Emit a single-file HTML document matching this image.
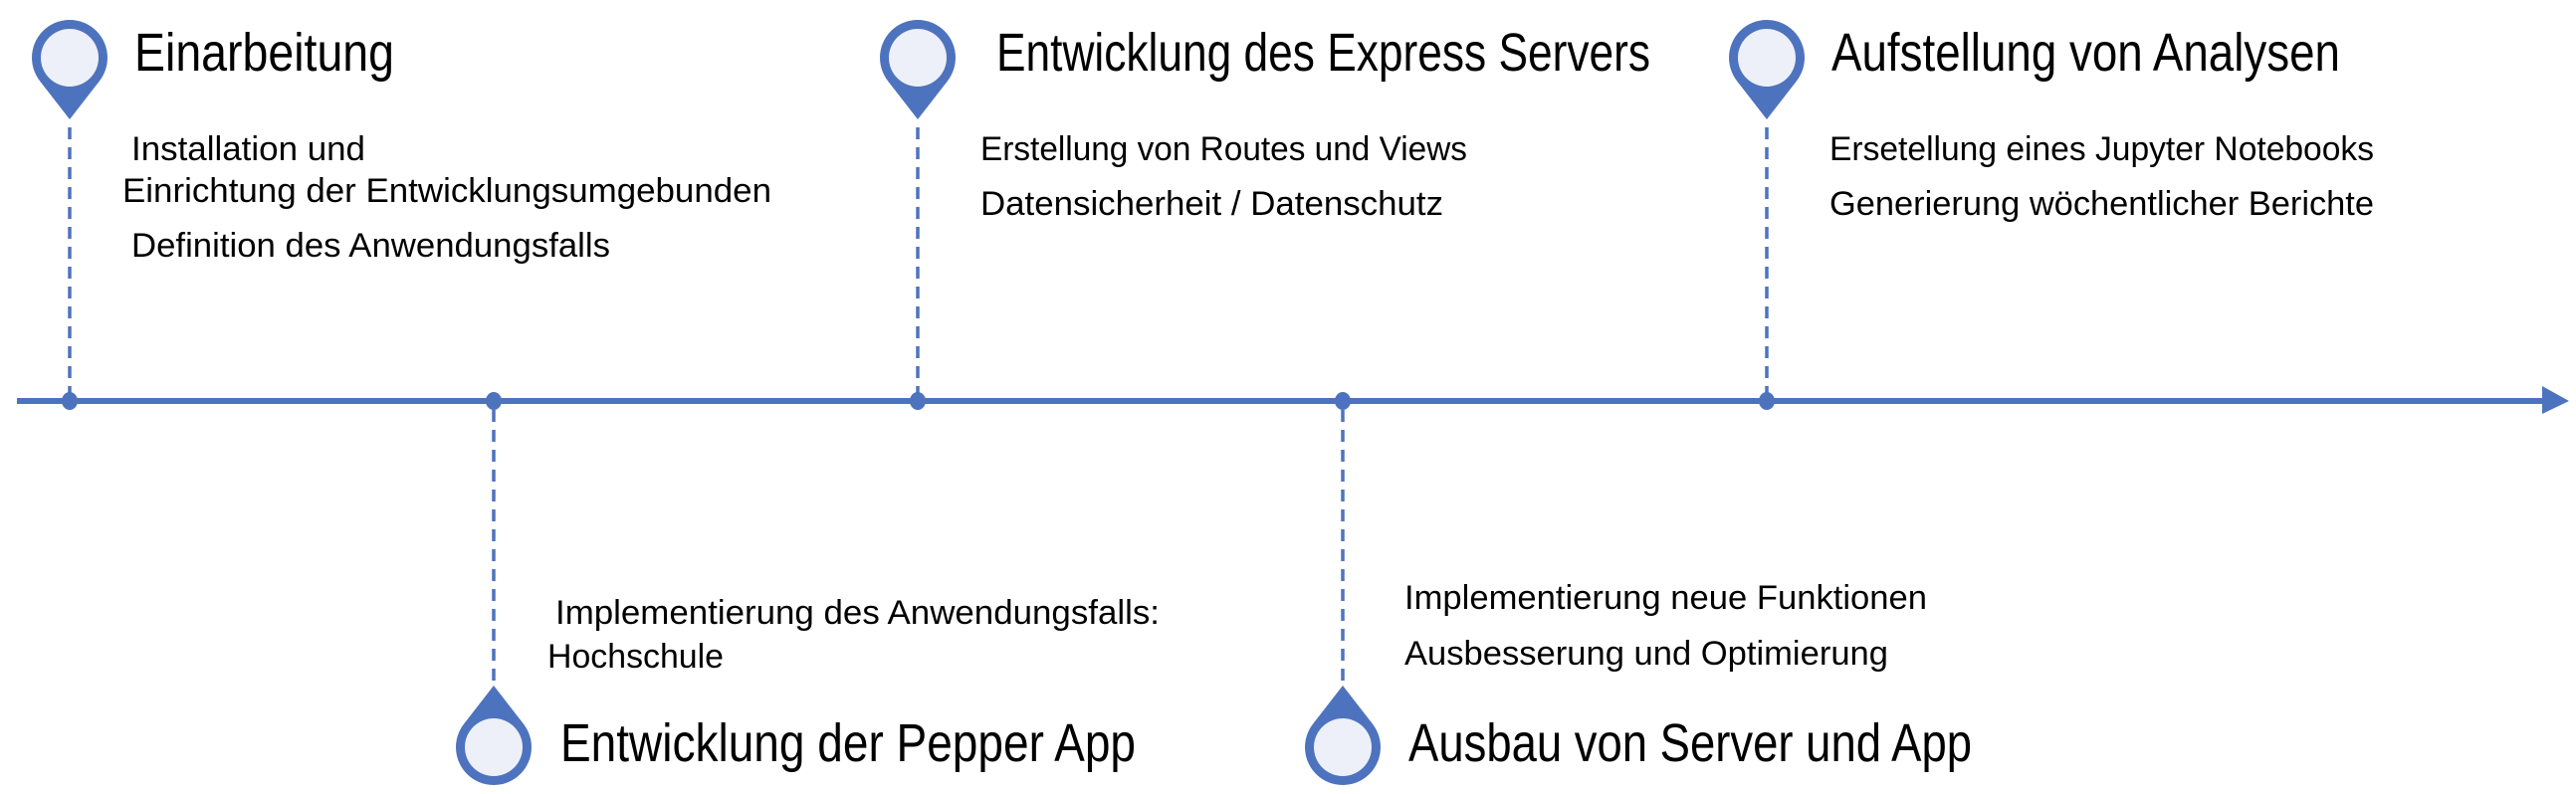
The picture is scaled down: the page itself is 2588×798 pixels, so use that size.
<!DOCTYPE html>
<html><head><meta charset="utf-8"><style>
html,body{margin:0;padding:0;background:#fff;}
svg{display:block;}
text{font-family:"Liberation Sans",sans-serif;fill:#000;}
.t{font-size:54px;}
.b{font-size:34px;}
</style></head><body>
<svg width="2588" height="798" viewBox="0 0 2588 798" xmlns="http://www.w3.org/2000/svg">
<defs>
<g id="pinT">
<circle cx="0" cy="58" r="38" fill="#4E73BE"/>
<polygon points="-29.5,82 29.5,82 0,120" fill="#4E73BE"/>
<circle cx="0" cy="58" r="29" fill="#EDF0F8"/>
</g>
<g id="pinB">
<circle cx="0" cy="751" r="38" fill="#4E73BE"/>
<polygon points="-29.5,727 29.5,727 0,689" fill="#4E73BE"/>
<circle cx="0" cy="751" r="29" fill="#EDF0F8"/>
</g>
</defs>
<g stroke="#4E73BE" stroke-width="3.5" stroke-dasharray="12,8">
<line x1="70" y1="128" x2="70" y2="400"/>
<line x1="922" y1="128" x2="922" y2="400"/>
<line x1="1775" y1="128" x2="1775" y2="400"/>
<line x1="496" y1="412" x2="496" y2="684"/>
<line x1="1349" y1="412" x2="1349" y2="684"/>
</g>
<line x1="17" y1="403" x2="2556" y2="403" stroke="#4E73BE" stroke-width="6"/>
<polygon points="2554,388 2581,403 2554,416" fill="#4E73BE"/>
<g fill="#4E73BE">
<ellipse cx="70" cy="403" rx="8" ry="9"/>
<ellipse cx="496" cy="403" rx="8" ry="9"/>
<ellipse cx="922" cy="403" rx="8" ry="9"/>
<ellipse cx="1349" cy="403" rx="8" ry="9"/>
<ellipse cx="1775" cy="403" rx="8" ry="9"/>
</g>
<use href="#pinT" x="70"/>
<use href="#pinT" x="922"/>
<use href="#pinT" x="1775"/>
<use href="#pinB" x="496"/>
<use href="#pinB" x="1349"/>

<text class="t" x="135" y="71" textLength="261" lengthAdjust="spacingAndGlyphs">Einarbeitung</text>
<text class="b" x="132" y="161" textLength="235" lengthAdjust="spacingAndGlyphs">Installation und</text>
<text class="b" x="123" y="203" textLength="652" lengthAdjust="spacingAndGlyphs">Einrichtung der Entwicklungsumgebunden</text>
<text class="b" x="132" y="258" textLength="481" lengthAdjust="spacingAndGlyphs">Definition des Anwendungsfalls</text>

<text class="t" x="1001" y="71" textLength="657" lengthAdjust="spacingAndGlyphs">Entwicklung des Express Servers</text>
<text class="b" x="985" y="161" textLength="489" lengthAdjust="spacingAndGlyphs">Erstellung von Routes und Views</text>
<text class="b" x="985" y="216" textLength="465" lengthAdjust="spacingAndGlyphs">Datensicherheit / Datenschutz</text>

<text class="t" x="1840" y="71" textLength="511" lengthAdjust="spacingAndGlyphs">Aufstellung von Analysen</text>
<text class="b" x="1838" y="161" textLength="547" lengthAdjust="spacingAndGlyphs">Ersetellung eines Jupyter Notebooks</text>
<text class="b" x="1838" y="216" textLength="547" lengthAdjust="spacingAndGlyphs">Generierung wöchentlicher Berichte</text>

<text class="b" x="558" y="627" textLength="607" lengthAdjust="spacingAndGlyphs">Implementierung des Anwendungsfalls:</text>
<text class="b" x="550" y="671" textLength="177" lengthAdjust="spacingAndGlyphs">Hochschule</text>
<text class="t" x="563" y="765" textLength="578" lengthAdjust="spacingAndGlyphs">Entwicklung der Pepper App</text>

<text class="b" x="1411" y="612" textLength="525" lengthAdjust="spacingAndGlyphs">Implementierung neue Funktionen</text>
<text class="b" x="1411" y="668" textLength="486" lengthAdjust="spacingAndGlyphs">Ausbesserung und Optimierung</text>
<text class="t" x="1415" y="765" textLength="566" lengthAdjust="spacingAndGlyphs">Ausbau von Server und App</text>
</svg>
</body></html>
